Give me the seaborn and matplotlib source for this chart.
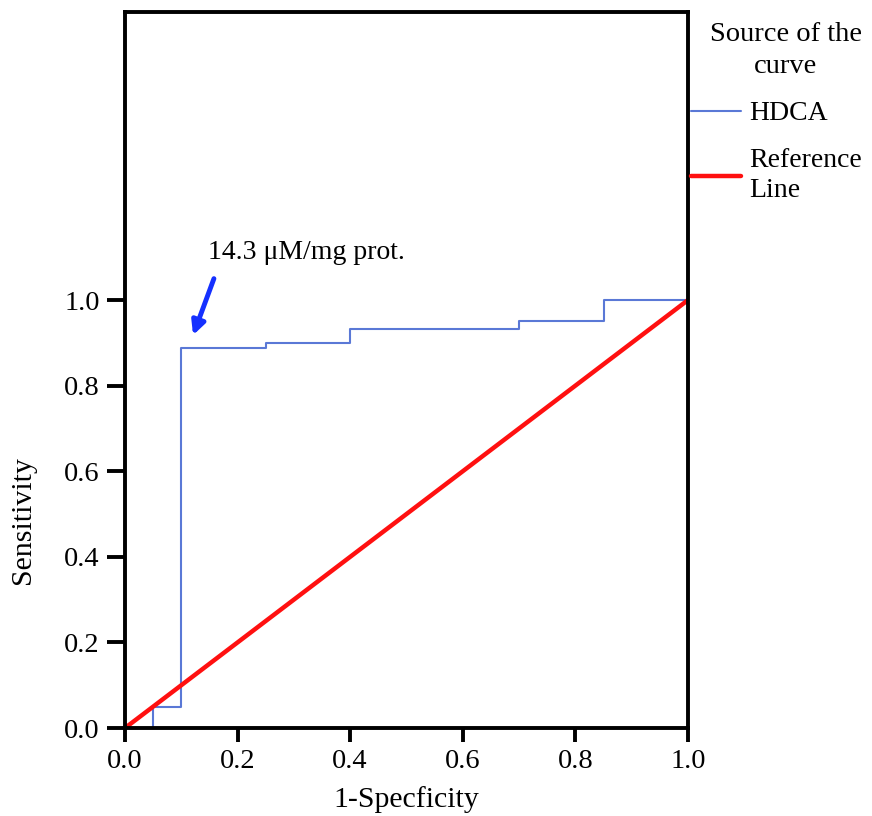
import matplotlib
matplotlib.use("Agg")
import matplotlib.pyplot as plt
import seaborn as sns
import pandas as pd

# ROC step curve (1-specificity, sensitivity)
fpr = [0.0, 0.05, 0.05, 0.10, 0.10, 0.25, 0.25, 0.40, 0.40, 0.70, 0.70, 0.85, 0.85, 1.0]
tpr = [0.0, 0.0, 0.05, 0.05, 0.888, 0.888, 0.90, 0.90, 0.933, 0.933, 0.952, 0.952, 1.0, 1.0]
ref_x = [0.0, 1.0]
ref_y = [0.0, 1.0]
ticks = [0.0, 0.2, 0.4, 0.6, 0.8, 1.0]
tick_labels = ["0.0", "0.2", "0.4", "0.6", "0.8", "1.0"]

sns.set_style("white")
plt.rcParams["font.family"] = ["Liberation Serif", "DejaVu Serif"]
for k in ["text.color", "axes.labelcolor", "xtick.color", "ytick.color"]:
    plt.rcParams[k] = "black"

fig = plt.figure(figsize=(8.72, 8.16), dpi=100)
ax = fig.add_axes([0.1433, 0.1078, 0.789 - 0.1433, 0.9853 - 0.1078])

df_roc = pd.DataFrame({"x": fpr, "y": tpr})
df_ref = pd.DataFrame({"x": ref_x, "y": ref_y})
sns.lineplot(data=df_roc, x="x", y="y", sort=False, estimator=None, ax=ax,
             color="#5a78d6", linewidth=1.5, label="HDCA")
sns.lineplot(data=df_ref, x="x", y="y", sort=False, estimator=None, ax=ax,
             color="#ff1010", linewidth=3.2, label="Reference\nLine")

ax.set_xlim(0, 1.0)
ax.set_ylim(0, 1.673)
ax.set_xticks(ticks)
ax.set_xticklabels(tick_labels)
ax.set_yticks(ticks)
ax.set_yticklabels(tick_labels)
ax.tick_params(axis="both", which="both", direction="out", width=2.8,
               labelsize=20.5, color="black", bottom=True, left=True, top=False, right=False)
ax.tick_params(axis="x", length=10, pad=5)
ax.tick_params(axis="y", length=13, pad=5)
for s in ax.spines.values():
    s.set_linewidth(2.8)
    s.set_color("black")

ax.set_xlabel("1-Specficity", fontsize=21.5, labelpad=9)
ax.set_ylabel("Sensitivity", fontsize=21.5)
ax.yaxis.set_label_coords(-0.158, 0.29)

ax.annotate("", xy=(0.121, 0.918), xytext=(0.158, 1.05),
            arrowprops=dict(arrowstyle="-|>,head_length=0.8,head_width=0.4",
                            color="#1530ff", lw=3.5, shrinkA=0, shrinkB=0))
ax.text(0.147, 1.11, "14.3 \u03bcM/mg prot.", fontsize=20, ha="left", va="center")

leg = ax.legend(loc="upper left", bbox_to_anchor=(1.0, 0.99), frameon=False,
                title="Source of the\ncurve", fontsize=20, title_fontsize=20.5,
                handlelength=1.8, handletextpad=0.3, borderaxespad=0.0,
                borderpad=0.1, labelspacing=0.8)
leg._legend_box.align = "right"
leg.get_title().set_multialignment("center")
leg.get_title().set_linespacing(1.35)
for t in leg.get_texts():
    t.set_linespacing(1.25)

fig.savefig("out.png", dpi=100)
